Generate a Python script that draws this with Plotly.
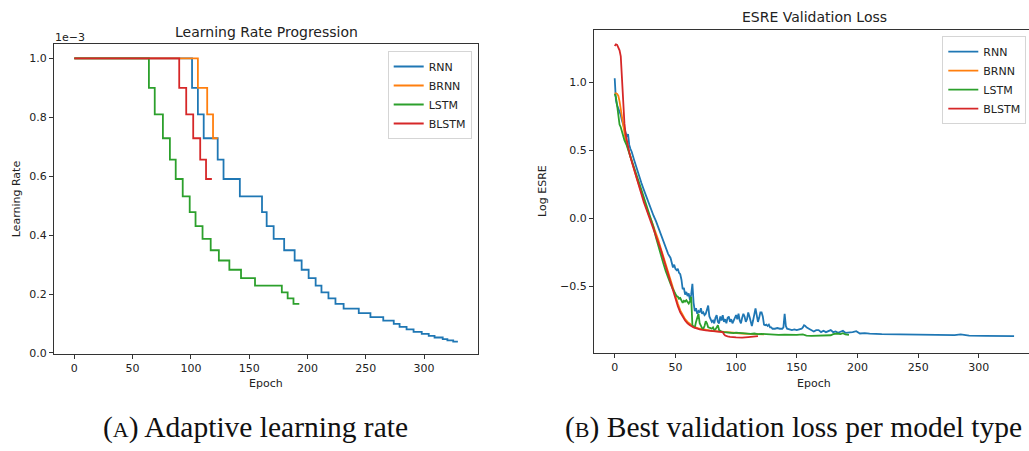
import plotly.graph_objects as go

# ---------------- data ----------------
MODELS = ["RNN", "BRNN", "LSTM", "BLSTM"]
COLORS = ["#1f77b4", "#ff7f0e", "#2ca02c", "#d62728"]

# Learning-rate schedule (units of 1e-3): epoch at which each level starts, and the level.
RNN_LR_START = [0, 101, 106, 111, 123, 128, 142, 161, 165, 171, 180, 189, 195, 201, 207, 212,
                218, 224, 231, 244, 254, 265, 274, 279, 285, 291, 298, 304, 309, 316, 320, 325]
RNN_LR = [1.0, 0.9, 0.81, 0.729, 0.6561, 0.5905, 0.5314, 0.4783, 0.4305, 0.3874, 0.3487, 0.3138,
          0.2824, 0.2542, 0.2288, 0.2059, 0.1853, 0.1668, 0.1501, 0.1351, 0.1216, 0.1094, 0.0985,
          0.0886, 0.0798, 0.0718, 0.0646, 0.0581, 0.0523, 0.0471, 0.0424, 0.0382]
RNN_LAST_EPOCH = 329

BRNN_LR_START = [0, 106, 114, 119]
BRNN_LR = [1.0, 0.9, 0.81, 0.729]
BRNN_LAST_EPOCH = 123

LSTM_LR_START = [0, 64, 69, 76, 82, 87, 93, 99, 104, 110, 117, 124, 133, 143, 155, 178, 183, 188]
LSTM_LR = [1.0, 0.9, 0.81, 0.729, 0.6561, 0.5905, 0.5314, 0.4783, 0.4305, 0.3874, 0.3487, 0.3138,
           0.2824, 0.2542, 0.2288, 0.2059, 0.1853, 0.1668]
LSTM_LAST_EPOCH = 193

BLSTM_LR_START = [0, 90, 96, 102, 108, 113]
BLSTM_LR = [1.0, 0.9, 0.81, 0.729, 0.6561, 0.5905]
BLSTM_LAST_EPOCH = 118

# Validation loss (log ESRE) per epoch
RNN_LOSS_EPOCH = [0, 1, 2, 3, 4, 5, 6, 7, 8, 9, 10, 11, 12, 13, 14, 16, 18, 20, 22, 24, 26, 28, 30,
                  32, 34, 36, 38, 40, 42, 44, 46, 47, 48, 49, 50, 51, 52, 53, 54, 55, 56, 57, 58, 59,
                  60, 61, 62, 63, 64, 65, 66, 67, 68, 69, 70, 71, 72, 73, 74, 75, 76, 77, 78, 79, 80,
                  81, 82, 83, 84, 85, 86, 87, 88, 89, 90, 91, 92, 93, 94, 95, 96, 97, 98, 99, 100,
                  101, 102, 103, 104, 105, 106, 107, 108, 109, 110, 111, 112, 113, 114, 115, 116, 117,
                  118, 119, 120, 121, 122, 123, 124, 125, 126, 127, 128, 129, 130, 132, 134, 136, 138,
                  139, 140, 141, 142, 144, 146, 148, 150, 152, 154, 155, 156, 157, 158, 160, 162, 164,
                  166, 168, 170, 172, 174, 176, 178, 180, 182, 184, 186, 188, 190, 193, 196, 199, 202,
                  206, 210, 220, 235, 250, 265, 280, 285, 288, 292, 305, 318, 329]
RNN_LOSS = [1.03, 0.87, 0.83, 0.81, 0.78, 0.76, 0.72, 0.69, 0.66, 0.63, 0.60, 0.62, 0.54, 0.51, 0.49,
            0.43, 0.37, 0.31, 0.26, 0.21, 0.16, 0.11, 0.06, 0.02, -0.02, -0.07, -0.12, -0.16, -0.21,
            -0.26, -0.29, -0.33, -0.36, -0.34, -0.37, -0.38, -0.37, -0.40, -0.41, -0.45, -0.52, -0.51,
            -0.56, -0.54, -0.57, -0.55, -0.60, -0.56, -0.48, -0.62, -0.68, -0.66, -0.70, -0.68, -0.69,
            -0.66, -0.70, -0.69, -0.71, -0.70, -0.67, -0.64, -0.72, -0.74, -0.76, -0.75, -0.77, -0.73,
            -0.71, -0.76, -0.77, -0.72, -0.75, -0.71, -0.76, -0.74, -0.77, -0.73, -0.72, -0.76, -0.74,
            -0.77, -0.75, -0.72, -0.71, -0.74, -0.70, -0.75, -0.77, -0.73, -0.70, -0.72, -0.76, -0.74,
            -0.69, -0.72, -0.77, -0.79, -0.75, -0.70, -0.66, -0.71, -0.76, -0.73, -0.69, -0.69, -0.72,
            -0.78, -0.785, -0.78, -0.79, -0.78, -0.80, -0.80, -0.81, -0.81, -0.805, -0.81, -0.81, -0.80,
            -0.70, -0.79, -0.81, -0.815, -0.82, -0.815, -0.82, -0.815, -0.81, -0.80, -0.785, -0.79,
            -0.80, -0.81, -0.82, -0.83, -0.82, -0.82, -0.835, -0.825, -0.835, -0.83, -0.82, -0.835,
            -0.83, -0.84, -0.835, -0.825, -0.84, -0.84, -0.835, -0.828, -0.845, -0.842, -0.846, -0.85,
            -0.853, -0.855, -0.857, -0.857, -0.852, -0.855, -0.86, -0.862, -0.863, -0.865]

BRNN_LOSS_EPOCH = [0, 1, 2, 3, 4, 5, 6, 7, 8, 9, 10, 12, 14, 16, 18, 20, 22, 24, 26, 28, 30, 32, 34,
                   36, 38, 40, 42, 44, 46, 48, 50, 52, 54, 56, 58, 60, 62, 65, 70, 75, 80, 85, 90, 95,
                   100, 105, 110, 115, 120, 123]
BRNN_LOSS = [0.915, 0.92, 0.915, 0.90, 0.86, 0.80, 0.74, 0.67, 0.62, 0.575, 0.545, 0.48, 0.42, 0.36,
             0.30, 0.245, 0.19, 0.13, 0.08, 0.03, -0.01, -0.055, -0.11, -0.16, -0.22, -0.28, -0.34,
             -0.40, -0.455, -0.51, -0.57, -0.625, -0.675, -0.71, -0.74, -0.76, -0.775, -0.795, -0.81,
             -0.82, -0.825, -0.83, -0.835, -0.84, -0.845, -0.845, -0.848, -0.85, -0.85, -0.852]

LSTM_LOSS_EPOCH = [0, 1, 2, 3, 4, 5, 6, 7, 8, 9, 10, 12, 14, 16, 18, 20, 22, 24, 26, 28, 30, 32, 34,
                   36, 38, 40, 42, 44, 46, 48, 49, 50, 51, 52, 53, 54, 55, 56, 57, 58, 59, 60, 61, 62,
                   63, 64, 65, 66, 67, 68, 69, 70, 71, 72, 73, 74, 75, 76, 77, 78, 79, 80, 81, 82, 83,
                   84, 85, 86, 87, 88, 90, 92, 95, 98, 100, 103, 106, 109, 112, 115, 118, 121, 124,
                   127, 130, 135, 140, 145, 150, 155, 158, 162, 166, 170, 175, 178, 180, 183, 186,
                   188, 190, 193]
LSTM_LOSS = [0.915, 0.89, 0.83, 0.745, 0.69, 0.67, 0.63, 0.60, 0.575, 0.555, 0.535, 0.48, 0.43, 0.375,
             0.32, 0.265, 0.21, 0.155, 0.10, 0.045, -0.01, -0.065, -0.14, -0.207, -0.27, -0.328,
             -0.385, -0.436, -0.48, -0.52, -0.54, -0.555, -0.57, -0.575, -0.59, -0.585, -0.60, -0.62,
             -0.605, -0.61, -0.60, -0.615, -0.625, -0.61, -0.575, -0.785, -0.79, -0.80, -0.76, -0.72,
             -0.70, -0.77, -0.79, -0.805, -0.81, -0.79, -0.755, -0.77, -0.80, -0.80, -0.805, -0.81,
             -0.80, -0.82, -0.815, -0.80, -0.785, -0.82, -0.83, -0.832, -0.835, -0.838, -0.84, -0.842,
             -0.838, -0.84, -0.845, -0.843, -0.848, -0.845, -0.85, -0.848, -0.85, -0.853, -0.852,
             -0.855, -0.853, -0.856, -0.855, -0.852, -0.86, -0.862, -0.86, -0.862, -0.86, -0.858,
             -0.85, -0.845, -0.85, -0.843, -0.852, -0.855]

BLSTM_LOSS_EPOCH = [0, 1, 2, 3, 4, 5, 6, 7, 8, 9, 10, 11, 12, 13, 14, 16, 18, 20, 22, 24, 26, 28, 30,
                    32, 34, 36, 38, 40, 42, 44, 46, 48, 50, 52, 54, 56, 58, 60, 62, 65, 70, 75, 80, 85,
                    89, 90, 91, 93, 95, 100, 105, 110, 114, 118]
BLSTM_LOSS = [1.267, 1.279, 1.275, 1.26, 1.235, 1.19, 1.02, 0.84, 0.70, 0.62, 0.565, 0.52, 0.485,
              0.45, 0.42, 0.35, 0.29, 0.235, 0.18, 0.12, 0.07, 0.02, -0.02, -0.065, -0.12, -0.17,
              -0.23, -0.29, -0.35, -0.41, -0.465, -0.525, -0.585, -0.645, -0.69, -0.725, -0.75, -0.77,
              -0.785, -0.80, -0.814, -0.822, -0.828, -0.831, -0.835, -0.85, -0.86, -0.866, -0.87,
              -0.874, -0.876, -0.872, -0.868, -0.865]

LR_TICKS = [0.0, 0.2, 0.4, 0.6, 0.8, 1.0]
LOSS_TICKS = [-0.5, 0.0, 0.5, 1.0]
EPOCH_TICKS = [0, 50, 100, 150, 200, 250, 300]

# ---------------- figure ----------------
W, H = 1029, 451
TICK_FONT = dict(family="DejaVu Sans", size=11, color="#222222")
LINE_COL = "#333333"


def fx(px):
    return px / W


def fy(px):
    return 1 - px / H


fig = go.Figure()

lr_series = [
    (RNN_LR_START, RNN_LR, RNN_LAST_EPOCH),
    (BRNN_LR_START, BRNN_LR, BRNN_LAST_EPOCH),
    (LSTM_LR_START, LSTM_LR, LSTM_LAST_EPOCH),
    (BLSTM_LR_START, BLSTM_LR, BLSTM_LAST_EPOCH),
]
for name, color, (starts, levels, last) in zip(MODELS, COLORS, lr_series):
    fig.add_trace(go.Scatter(
        x=list(starts) + [last], y=list(levels) + [levels[-1]],
        mode="lines", line=dict(color=color, width=1.8, shape="hv"),
        name=name, legend="legend", xaxis="x", yaxis="y"))

loss_series = [
    (RNN_LOSS_EPOCH, RNN_LOSS),
    (BRNN_LOSS_EPOCH, BRNN_LOSS),
    (LSTM_LOSS_EPOCH, LSTM_LOSS),
    (BLSTM_LOSS_EPOCH, BLSTM_LOSS),
]
for name, color, (ep, vals) in zip(MODELS, COLORS, loss_series):
    fig.add_trace(go.Scatter(
        x=ep, y=vals, mode="lines", line=dict(color=color, width=1.8),
        name=name, legend="legend2", xaxis="x2", yaxis="y2"))

axis_common = dict(showgrid=False, zeroline=False, showline=True, linecolor=LINE_COL, linewidth=1,
                   ticks="outside", ticklen=4, tickwidth=1, tickcolor=LINE_COL, tickfont=TICK_FONT)

legend_common = dict(font=dict(family="DejaVu Sans", size=11, color="#222222"),
                     bgcolor="rgba(255,255,255,0.8)", bordercolor="#d5d5d5", borderwidth=1,
                     tracegroupgap=0, itemwidth=30)

fig.update_layout(
    width=W, height=H, margin=dict(l=0, r=0, t=0, b=0),
    paper_bgcolor="white", plot_bgcolor="white", showlegend=True,
    xaxis=dict(domain=[fx(54), fx(477.7)], range=[-17.4, 346], tickvals=EPOCH_TICKS,
               anchor="y", mirror=True, **axis_common),
    yaxis=dict(domain=[fy(359), fy(45)], range=[-0.0044, 1.0476], tickvals=LR_TICKS,
               ticktext=[f"{v:.1f}" for v in LR_TICKS], anchor="x", mirror=True, **axis_common),
    xaxis2=dict(domain=[fx(594), 1.0], range=[-17.05, 341.3], tickvals=EPOCH_TICKS,
                anchor="y2", mirror=True, **axis_common),
    yaxis2=dict(domain=[fy(358), fy(30.7)], range=[-0.99, 1.382], tickvals=LOSS_TICKS,
                ticktext=[f"{v:.1f}".replace("-", "\u2212") for v in LOSS_TICKS], anchor="x2",
                mirror=False, **axis_common),
    legend=dict(x=fx(471.7), y=fy(51.7), xanchor="right", yanchor="top", **legend_common),
    legend2=dict(x=fx(942.3), y=fy(36.7), xanchor="left", yanchor="top", **legend_common),
)

label_font = dict(family="DejaVu Sans", size=11, color="#222222")
title_font = dict(family="DejaVu Sans", size=14, color="#222222")
caption_font = dict(family="Liberation Serif", size=29.5, color="#111111")

annotations = [
    dict(text="Learning Rate Progression", x=fx(266), y=fy(32.5), font=title_font),
    dict(text="ESRE Validation Loss", x=fx(814), y=fy(17), font=title_font),
    dict(text="Epoch", x=fx(266), y=fy(389), font=label_font),
    dict(text="Epoch", x=fx(814), y=fy(389), font=label_font),
    dict(text="Learning Rate", x=fx(16), y=fy(202), font=label_font, textangle=-90),
    dict(text="Log ESRE", x=fx(542.5), y=fy(194), font=label_font, textangle=-90),
    dict(text="1e\u22123", x=fx(70), y=fy(37.5), font=label_font),
    dict(text="(<span style='font-size:22px'>A</span>) Adaptive learning rate",
         x=fx(255), y=fy(433), font=caption_font),
    dict(text="(<span style='font-size:22px'>B</span>) Best validation loss per model type",
         x=fx(793), y=fy(433), font=caption_font),
]
for a in annotations:
    fig.add_annotation(xref="paper", yref="paper", xanchor="center", yanchor="middle",
                       showarrow=False, **a)

fig.write_html("out.html", config={"displayModeBar": False})
